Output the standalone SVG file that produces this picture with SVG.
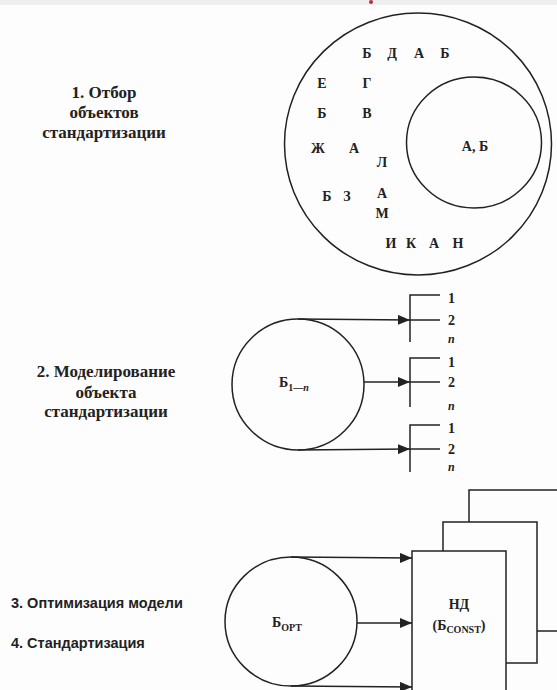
<svg xmlns="http://www.w3.org/2000/svg" width="557" height="690" viewBox="0 0 557 690">
<defs>
<style>
.ln{fill:none;stroke:#222;stroke-width:1.5}
.box{fill:#fdfdfd;stroke:#222;stroke-width:1.5}
.lt{font-family:"Liberation Serif",serif;font-weight:bold;font-size:14px;fill:#222;text-anchor:middle}
.lbl{font-family:"Liberation Serif",serif;font-weight:bold;font-size:17px;fill:#222;text-anchor:middle}
.lbs{font-family:"Liberation Sans",sans-serif;font-weight:bold;font-size:14.5px;fill:#222}
.num{font-family:"Liberation Serif",serif;font-weight:bold;font-size:14px;fill:#222}
.it{font-family:"Liberation Serif",serif;font-weight:bold;font-style:italic;font-size:12px;fill:#222}
.sub{font-size:10px}
</style>
<marker id="ah" markerWidth="12" markerHeight="10" refX="12" refY="5" orient="auto" markerUnits="userSpaceOnUse">
<path d="M0,0 L12,5 L0,10 Z" fill="#222"/>
</marker>
</defs>
<rect width="557" height="690" fill="#fdfdfd"/>
<rect width="557" height="5" fill="#efefef"/>
<ellipse cx="371" cy="2" rx="2" ry="2" fill="#b03040"/>

<g id="labels">
<text class="lbl" x="104" y="98">1. Отбор</text>
<text class="lbl" x="104" y="118">объектов</text>
<text class="lbl" x="104" y="138">стандартизации</text>
<text class="lbl" x="106" y="377">2. Моделирование</text>
<text class="lbl" x="106" y="398">объекта</text>
<text class="lbl" x="106" y="417">стандартизации</text>
<text class="lbs" x="11" y="608">3. Оптимизация модели</text>
<text class="lbs" x="11" y="648">4. Стандартизация</text>
</g>

<g id="selection">
<ellipse class="ln" cx="418" cy="144" rx="133.5" ry="131"/>
<text class="lt" x="367" y="58">Б</text>
<text class="lt" x="392" y="58">Д</text>
<text class="lt" x="419" y="58">А</text>
<text class="lt" x="445" y="58">Б</text>
<text class="lt" x="322" y="88">Е</text>
<text class="lt" x="367" y="88">Г</text>
<text class="lt" x="322" y="118">Б</text>
<text class="lt" x="367" y="118">В</text>
<text class="lt" x="318" y="153">Ж</text>
<text class="lt" x="354" y="153">А</text>
<text class="lt" x="382" y="167">Л</text>
<text class="lt" x="327" y="201">Б</text>
<text class="lt" x="347" y="201">З</text>
<text class="lt" x="382" y="198">А</text>
<text class="lt" x="382" y="218">М</text>
<text class="lt" x="391" y="248">И</text>
<text class="lt" x="411" y="248">К</text>
<text class="lt" x="434" y="248">А</text>
<text class="lt" x="458" y="248">Н</text>
</g>

<g id="subset">
<ellipse class="ln" cx="474" cy="142.5" rx="67.5" ry="65.5"/>
<text class="lt" x="475" y="151">А, Б</text>
</g>

<g id="model">
<ellipse class="ln" cx="298" cy="384.5" rx="66" ry="65.5"/>
<text class="num" x="279" y="387">Б<tspan class="sub" dy="4">1—</tspan><tspan class="sub" font-style="italic">n</tspan></text>
</g>

<g id="variants1">
<path class="ln" d="M440,295 H410 V342 M410,320 H440"/>
<text class="num" x="448" y="303">1</text>
<text class="num" x="448" y="325">2</text>
<text class="it" x="448" y="343">n</text>
</g>
<g id="variants2">
<path class="ln" d="M440,358 H410 V407 M410,382 H440"/>
<text class="num" x="448" y="367">1</text>
<text class="num" x="448" y="387">2</text>
<text class="it" x="448" y="410">n</text>
</g>
<g id="variants3">
<path class="ln" d="M440,425 H410 V472 M410,449 H440"/>
<text class="num" x="448" y="433">1</text>
<text class="num" x="448" y="454">2</text>
<text class="it" x="448" y="471">n</text>
</g>

<g id="optimum">
<ellipse class="ln" cx="291" cy="621.5" rx="66" ry="64.5"/>
<text class="num" x="272" y="627">Б<tspan class="sub" dy="4">OPT</tspan></text>
</g>

<g id="documents">
<rect class="box" x="469" y="490" width="100" height="141"/>
<rect class="box" x="443" y="522" width="94" height="141"/>
<rect class="box" x="412" y="551" width="94" height="145"/>
<text class="num" x="459" y="609" text-anchor="middle">НД</text>
<text class="num" x="459" y="630" text-anchor="middle">(Б<tspan class="sub" dy="3">CONST</tspan><tspan dy="-3">)</tspan></text>
</g>

<g id="connectors">
<line class="ln" x1="298" y1="319" x2="410" y2="320" marker-end="url(#ah)"/>
<line class="ln" x1="364" y1="382" x2="410" y2="382" marker-end="url(#ah)"/>
<line class="ln" x1="298" y1="450" x2="410" y2="449" marker-end="url(#ah)"/>
<line class="ln" x1="291" y1="557" x2="412" y2="558" marker-end="url(#ah)"/>
<line class="ln" x1="357" y1="623" x2="412" y2="623" marker-end="url(#ah)"/>
<line class="ln" x1="291" y1="686" x2="412" y2="687" marker-end="url(#ah)"/>
</g>
</svg>
